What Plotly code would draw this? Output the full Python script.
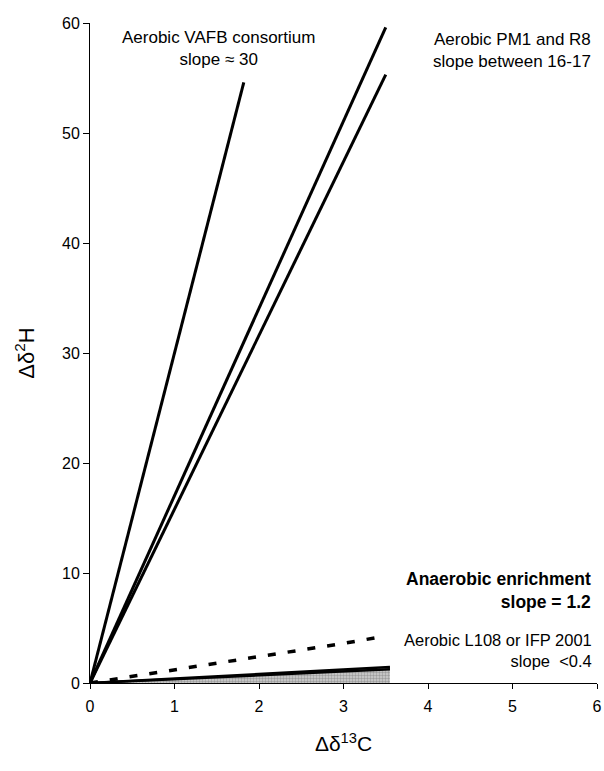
import plotly.graph_objects as go

# Data
vafb_x = [0, 1.82]
vafb_y = [0, 54.6]
pm1_x = [0, 3.5]
pm1_y = [0, 59.6]
r8_x = [0, 3.5]
r8_y = [0, 55.3]
anaer_x = [0, 0.25, 0.5, 1.0, 1.5, 2.0, 2.5, 3.0, 3.45]
anaer_y = [0, 0.3, 0.55, 1.15, 1.75, 2.4, 2.95, 3.6, 4.2]
l108_x = [0, 3.55]
l108_y = [0, 1.45]
l108b_y = [0, 1.25]

fig = go.Figure()

fig.add_trace(go.Scatter(x=l108_x + [3.55, 0], y=l108_y + [0, 0], mode="lines",
                         line=dict(width=0), fill="toself", fillcolor="#c8c8c8",
                         fillpattern=dict(shape=".", size=3, solidity=0.5, fgcolor="#6a6a6a", bgcolor="#d0d0d0"),
                         hoverinfo="skip", showlegend=False))
fig.add_trace(go.Scatter(x=l108_x, y=l108b_y, mode="lines", line=dict(color="black", width=2.5), showlegend=False))
fig.add_trace(go.Scatter(x=l108_x, y=l108_y, mode="lines", line=dict(color="black", width=2.5), showlegend=False))
fig.add_trace(go.Scatter(x=anaer_x, y=anaer_y, mode="lines",
                         line=dict(color="black", width=3.5, dash="8px,12px"), showlegend=False))
for xs, ys in [(vafb_x, vafb_y), (pm1_x, pm1_y), (r8_x, r8_y)]:
    fig.add_trace(go.Scatter(x=xs, y=ys, mode="lines", line=dict(color="black", width=3), showlegend=False))

fig.update_layout(
    width=604, height=771,
    margin=dict(l=90, r=2, t=23, b=88),
    paper_bgcolor="white", plot_bgcolor="white",
    font=dict(family="Liberation Sans, Arial, sans-serif", size=16, color="black"),
    xaxis=dict(range=[0, 6], tickvals=[0, 1, 2, 3, 4, 5, 6], showgrid=False, zeroline=False,
               showline=True, linecolor="black", linewidth=1, ticks="outside", ticklen=5,
               tickcolor="black", tickfont=dict(size=16), ticklabeloverflow="allow",
               ticklabelstandoff=4,
               title=dict(text="Δδ<sup>13</sup>C", font=dict(size=21), standoff=22)),
    yaxis=dict(range=[0, 60], tickvals=[0, 10, 20, 30, 40, 50, 60], showgrid=False, zeroline=False,
               showline=True, linecolor="black", linewidth=1, ticks="outside", ticklen=6,
               tickcolor="black", tickfont=dict(size=16),
               title=dict(text="Δδ<sup>2</sup>H", font=dict(size=22), standoff=21)),
    annotations=[
        dict(xref="x", yref="y", x=1.52, y=57.7, text="Aerobic VAFB consortium<br>slope ≈ 30",
             showarrow=False, align="center", font=dict(size=17), xanchor="center", yanchor="middle"),
        dict(xref="paper", yref="y", x=0.993, y=57.5, text="Aerobic PM1 and R8<br>slope between 16-17",
             showarrow=False, align="right", font=dict(size=17), xanchor="right", yanchor="middle"),
        dict(xref="paper", yref="y", x=0.993, y=8.45, text="<b>Anaerobic enrichment<br>slope = 1.2</b>",
             showarrow=False, align="right", font=dict(size=17.5), xanchor="right", yanchor="middle"),
        dict(xref="paper", yref="y", x=0.995, y=3.0, text="Aerobic L108 or IFP 2001<br>slope  <0.4",
             showarrow=False, align="right", font=dict(size=16.5), xanchor="right", yanchor="middle"),
    ],
)

fig.write_html("out.html")
